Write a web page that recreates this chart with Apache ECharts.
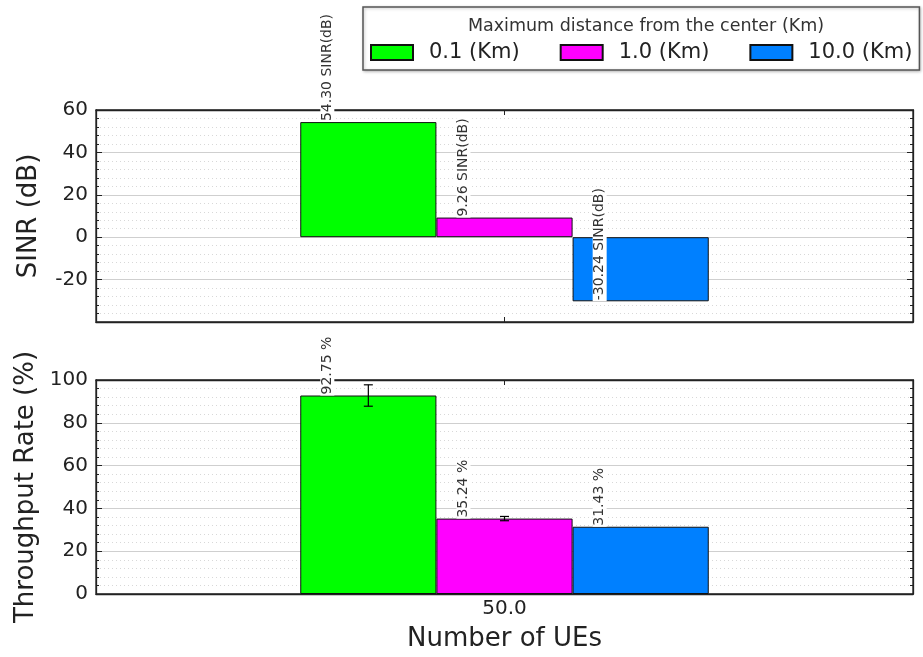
<!DOCTYPE html>
<html>
<head>
<meta charset="utf-8">
<script src="https://cdn.jsdelivr.net/npm/echarts@6/dist/echarts.min.js"></script>
<style>html,body{margin:0;padding:0;background:#fff;}#c{width:923px;height:657px;}</style>
</head>
<body>
<div id="c"></div>
<script>
var categories = ['50.0'];
var seriesNames = ['0.1 (Km)', '1.0 (Km)', '10.0 (Km)'];
var seriesColors = ['#00ff00', '#ff00ff', '#0080ff'];
var sinrValues = [54.30, 9.26, -30.24];
var throughputValues = [92.75, 35.24, 31.43];
var throughputErrors = [5.0, 1.0, 0.0];
var sinrTicks = {min: -40, max: 60, interval: 20};
var tpTicks = {min: 0, max: 100, interval: 20};
var legendTitle = 'Maximum distance from the center (Km)';

var FONT = 'DejaVu Sans';
var chart = echarts.init(document.getElementById('c'), null, {renderer: 'canvas'});

function yAxisBase(grid, ticks, name, right) {
  return {
    type: 'value', gridIndex: grid, min: ticks.min, max: ticks.max, interval: ticks.interval,
    position: right ? 'right' : 'left',
    name: right ? '' : name, nameLocation: 'middle', nameGap: 54, nameRotate: 90,
    nameTextStyle: {fontFamily: FONT, fontSize: 26, color: '#222'},
    axisLine: {show: true, onZero: false, lineStyle: {color: '#222', width: 1.3}},
    axisTick: {show: true, inside: true, length: 6, lineStyle: {color: '#222'}},
    minorTick: {show: true, splitNumber: 5, length: 3, lineStyle: {color: '#222'}},
    axisLabel: {show: !right, fontFamily: FONT, fontSize: 20, color: '#222', margin: 8, showMinLabel: ticks.min === 0},
    splitLine: {show: !right, lineStyle: {color: '#cfcfcf', width: 1.2}},
    minorSplitLine: {show: !right, lineStyle: {color: '#d8d8d8', type: [1, 3], width: 1}}
  };
}
function xAxisBase(grid, showLabel, top) {
  return {
    type: 'category', gridIndex: grid, data: categories, position: top ? 'top' : 'bottom',
    name: (showLabel && !top) ? 'Number of UEs' : '', nameLocation: 'middle', nameGap: 32,
    nameTextStyle: {fontFamily: FONT, fontSize: 26, color: '#222'},
    axisLine: {show: true, onZero: false, lineStyle: {color: '#222', width: 1.3}},
    axisTick: {show: true, inside: true, alignWithLabel: true, length: 5, lineStyle: {color: '#222'}},
    axisLabel: {show: showLabel && !top, fontFamily: FONT, fontSize: 20, color: '#222', margin: 5},
    splitLine: {show: false}
  };
}

function mkLabel(suffix, v) {
  return {
    show: true, position: v < 0 ? 'bottom' : 'top', distance: 0, rotate: 90,
    align: 'left', verticalAlign: 'middle', offset: [0, -41],
    fontFamily: FONT, fontSize: 14, color: '#333', backgroundColor: '#fff', padding: [0, 1],
    formatter: function (p) { return p.value.toFixed(2) + suffix; }
  };
}

var series = [];
seriesNames.forEach(function (n, i) {
  series.push({
    name: n, type: 'bar', xAxisIndex: 0, yAxisIndex: 0,
    barGap: '0%', barCategoryGap: '50%',
    itemStyle: {color: seriesColors[i], borderColor: '#111', borderWidth: 1},
    data: [{value: sinrValues[i], label: mkLabel(' SINR(dB)', sinrValues[i])}]
  });
});
seriesNames.forEach(function (n, i) {
  series.push({
    name: n, type: 'bar', xAxisIndex: 1, yAxisIndex: 2,
    barGap: '0%', barCategoryGap: '50%',
    itemStyle: {color: seriesColors[i], borderColor: '#111', borderWidth: 1},
    data: [{value: throughputValues[i], label: mkLabel(' %', throughputValues[i])}]
  });
});
series.push({
  type: 'custom', xAxisIndex: 1, yAxisIndex: 2, z: 10, silent: true,
  data: throughputValues.map(function (v, i) { return [0, v, throughputErrors[i], i]; }),
  renderItem: function (params, api) {
    var err = api.value(2);
    if (!err) return null;
    var idx = api.value(3);
    var band = api.size([1, 0])[0];
    var bw = band * 0.5 / seriesNames.length;
    var c = api.coord([api.value(0), api.value(1)]);
    var x = c[0] + (idx - (seriesNames.length - 1) / 2) * bw;
    var yTop = api.coord([0, api.value(1) + err])[1];
    var yBot = api.coord([0, api.value(1) - err])[1];
    var cap = 4.5;
    var st = {stroke: '#000', lineWidth: 1.2};
    return {type: 'group', children: [
      {type: 'line', shape: {x1: x, y1: yTop, x2: x, y2: yBot}, style: st},
      {type: 'line', shape: {x1: x - cap, y1: yTop, x2: x + cap, y2: yTop}, style: st},
      {type: 'line', shape: {x1: x - cap, y1: yBot, x2: x + cap, y2: yBot}, style: st}
    ]};
  }
});

chart.setOption({
  backgroundColor: '#fff',
  animation: false,
  legend: {
    data: seriesNames, left: 363, top: 7, width: 600, orient: 'horizontal',
    padding: [35, 7, 7, 7], itemGap: 40, itemWidth: 42, itemHeight: 15,
    borderColor: '#555', borderWidth: 1.5, borderRadius: 0,
    shadowColor: 'rgba(0,0,0,0.25)', shadowBlur: 3, shadowOffsetX: 1, shadowOffsetY: 1,
    backgroundColor: '#fff',
    icon: 'rect',
    textStyle: {fontFamily: FONT, fontSize: 21, color: '#222', padding: [0, 0, 0, 11]}
  },
  title: {text: legendTitle, left: 641, top: 12, textAlign: 'center', z: 10,
    textStyle: {fontFamily: FONT, fontSize: 17.5, fontWeight: 'normal', color: '#333'}},
  grid: [
    {left: 96, top: 110, width: 817, height: 212, show: true, borderColor: '#222', borderWidth: 1.3},
    {left: 96, top: 380, width: 817, height: 214, show: true, borderColor: '#222', borderWidth: 1.3}
  ],
  xAxis: [xAxisBase(0, false, false), xAxisBase(1, true, false), xAxisBase(0, false, true), xAxisBase(1, false, true)],
  yAxis: [
    yAxisBase(0, sinrTicks, 'SINR (dB)', false),
    yAxisBase(0, sinrTicks, '', true),
    yAxisBase(1, tpTicks, 'Throughput Rate (%)', false),
    yAxisBase(1, tpTicks, '', true)
  ],
  series: series
});
</script>
</body>
</html>
